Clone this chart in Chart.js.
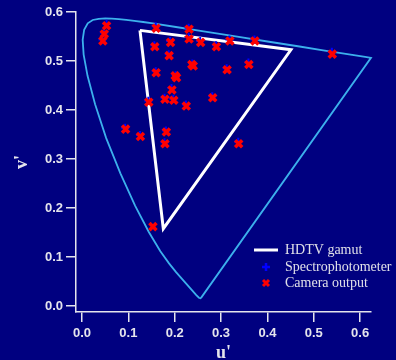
<!DOCTYPE html>
<html>
<head>
<meta charset="utf-8">
<script src="https://cdn.jsdelivr.net/npm/chart.js@4.4.1/dist/chart.umd.min.js"></script>
<style>
  html, body { margin: 0; padding: 0; background: #000080; }
  canvas { display: block; }
</style>
</head>
<body>
<canvas id="cie" width="396" height="360"></canvas>
<script>
  // spectral locus (u', v'), 380 -> 700 nm, closed by the purple line
  const locusU = [0.2568, 0.2557, 0.2522, 0.2461, 0.2347, 0.2161, 0.2033, 0.1877, 0.1690, 0.1441,
                  0.1147, 0.0828, 0.0521, 0.0282, 0.0119, 0.0035, 0.0014, 0.0046, 0.0123, 0.0231,
                  0.0360, 0.0501, 0.0643, 0.0792, 0.0953, 0.1127, 0.1319, 0.1531, 0.2026, 0.2623,
                  0.3315, 0.4035, 0.4692, 0.5203, 0.5830, 0.6109, 0.6234, 0.2568];
  const locusV = [0.0166, 0.0159, 0.0169, 0.0226, 0.0350, 0.0549, 0.0688, 0.0871, 0.1119, 0.1510,
                  0.2044, 0.2708, 0.3427, 0.4117, 0.4698, 0.5131, 0.5432, 0.5638, 0.5770, 0.5837,
                  0.5861, 0.5868, 0.5865, 0.5856, 0.5841, 0.5821, 0.5796, 0.5766, 0.5694, 0.5604,
                  0.5501, 0.5393, 0.5296, 0.5219, 0.5125, 0.5084, 0.5065, 0.0166];

  // HDTV (Rec. 709) primaries, G -> R -> B -> G
  const gamutU = [0.125, 0.4507, 0.1754, 0.125];
  const gamutV = [0.5625, 0.5229, 0.1579, 0.5625];

  const cameraU = [0.053, 0.048, 0.045, 0.160, 0.231, 0.231, 0.191, 0.256, 0.290, 0.319,
                   0.373, 0.540, 0.157, 0.188, 0.237, 0.240, 0.160, 0.201, 0.204, 0.313,
                   0.360, 0.194, 0.144, 0.179, 0.198, 0.225, 0.282, 0.094, 0.126, 0.182,
                   0.179, 0.338, 0.153];
  const cameraV = [0.572, 0.555, 0.541, 0.567, 0.565, 0.545, 0.538, 0.538, 0.529, 0.541,
                   0.541, 0.514, 0.529, 0.511, 0.493, 0.490, 0.476, 0.470, 0.466, 0.482,
                   0.493, 0.441, 0.416, 0.422, 0.420, 0.408, 0.425, 0.361, 0.346, 0.355,
                   0.331, 0.331, 0.162];

  const spectroU = [0.053, 0.047, 0.044, 0.159, 0.230, 0.230, 0.190, 0.255, 0.289, 0.318,
                    0.372, 0.539, 0.156, 0.187, 0.238, 0.159, 0.202, 0.312, 0.359, 0.193,
                    0.143, 0.178, 0.197, 0.224, 0.281, 0.093, 0.125, 0.181, 0.178, 0.337];
  const spectroV = [0.576, 0.558, 0.544, 0.571, 0.568, 0.549, 0.541, 0.541, 0.532, 0.544,
                    0.544, 0.519, 0.532, 0.514, 0.495, 0.479, 0.471, 0.485, 0.497, 0.445,
                    0.419, 0.425, 0.423, 0.411, 0.428, 0.364, 0.349, 0.358, 0.334, 0.335];

  const uTicks = [0.0, 0.1, 0.2, 0.3, 0.4, 0.5, 0.6];
  const vTicks = [0.0, 0.1, 0.2, 0.3, 0.4, 0.5, 0.6];

  const legendLabels = ['HDTV gamut', 'Spectrophotometer', 'Camera output'];

  const toPoints = (xs, ys) => xs.map((x, i) => ({ x, y: ys[i] }));

  const axisColor = '#e4e4ec';
  const tickFont = { family: 'Liberation Sans, Arial, sans-serif', weight: 'bold', size: 13 };
  const titleFont = { family: 'Liberation Serif, Times New Roman, serif', weight: 'bold', size: 18, lineHeight: 1 };

  // legend drawn by hand at the lower right of the plot
  const legendPlugin = {
    id: 'cornerLegend',
    afterDraw(chart) {
      const ctx = chart.ctx;
      ctx.save();
      ctx.font = '14px "Liberation Serif", "Times New Roman", serif';
      ctx.fillStyle = '#e0e0e8';
      ctx.textBaseline = 'middle';
      const rows = [250, 267, 283];
      const tx = 285;
      // line sample
      ctx.strokeStyle = '#ffffff';
      ctx.lineWidth = 3;
      ctx.beginPath();
      ctx.moveTo(254, rows[0]);
      ctx.lineTo(278, rows[0]);
      ctx.stroke();
      // blue cross
      ctx.strokeStyle = '#0000ff';
      ctx.lineWidth = 2.5;
      ctx.beginPath();
      ctx.moveTo(262, rows[1]); ctx.lineTo(270, rows[1]);
      ctx.moveTo(266, rows[1] - 4); ctx.lineTo(266, rows[1] + 4);
      ctx.stroke();
      // red x
      ctx.strokeStyle = '#ff0000';
      ctx.lineWidth = 3;
      ctx.beginPath();
      ctx.moveTo(263, rows[2] - 3); ctx.lineTo(269, rows[2] + 3);
      ctx.moveTo(269, rows[2] - 3); ctx.lineTo(263, rows[2] + 3);
      ctx.stroke();
      legendLabels.forEach((t, i) => ctx.fillText(t, tx, rows[i]));
      ctx.restore();
    }
  };

  new Chart(document.getElementById('cie'), {
    type: 'scatter',
    data: {
      datasets: [
        {
          label: 'Camera output',
          data: toPoints(cameraU, cameraV),
          pointStyle: 'crossRot',
          pointRadius: 5,
          pointBorderWidth: 3.5,
          borderColor: '#ff0000',
          backgroundColor: '#ff0000',
          clip: false
        },
        {
          label: 'Spectrophotometer',
          data: toPoints(spectroU, spectroV),
          pointStyle: 'cross',
          pointRadius: 4,
          pointBorderWidth: 2,
          borderColor: '#0000ff',
          backgroundColor: '#0000ff',
          clip: false
        },
        {
          label: 'HDTV gamut',
          data: toPoints(gamutU, gamutV),
          showLine: true,
          borderColor: '#ffffff',
          borderWidth: 3,
          pointRadius: 0,
          borderJoinStyle: 'miter',
          clip: false
        },
        {
          label: 'Spectral locus',
          data: toPoints(locusU, locusV),
          showLine: true,
          borderColor: '#3cb0ec',
          borderWidth: 1.8,
          pointRadius: 0,
          clip: false
        }
      ]
    },
    options: {
      responsive: false,
      animation: false,
      devicePixelRatio: 1,
      layout: { padding: { left: 0, right: 25, top: 12, bottom: 0 } },
      plugins: {
        legend: { display: false },
        tooltip: { enabled: false }
      },
      scales: {
        x: {
          type: 'linear',
          min: -0.013,
          max: 0.6235,
          afterBuildTicks: s => { s.ticks = uTicks.map(value => ({ value })); },
          afterFit: s => { s.height = 48; },
          grid: { drawOnChartArea: false, drawTicks: true, tickLength: 10, color: axisColor, lineWidth: 1.5 },
          border: { display: true, color: axisColor, width: 1.5 },
          ticks: { color: axisColor, font: tickFont, padding: 4, maxRotation: 0, callback: v => v.toFixed(1) },
          title: { display: true, text: "u'", color: axisColor, font: titleFont, padding: { top: 0, bottom: -2 } }
        },
        y: {
          type: 'linear',
          min: -0.0122,
          max: 0.6,
          afterBuildTicks: s => { s.ticks = vTicks.map(value => ({ value })); },
          afterFit: s => { s.width = 76; },
          grid: { drawOnChartArea: false, drawTicks: true, tickLength: 10, color: axisColor, lineWidth: 1.5 },
          border: { display: true, color: axisColor, width: 1.5 },
          ticks: { color: axisColor, font: tickFont, padding: 3, callback: v => v.toFixed(1) },
          title: { display: true, text: "v'", color: axisColor, font: titleFont, padding: { top: 13, bottom: 0 } }
        }
      }
    },
    plugins: [legendPlugin]
  });
</script>
</body>
</html>
